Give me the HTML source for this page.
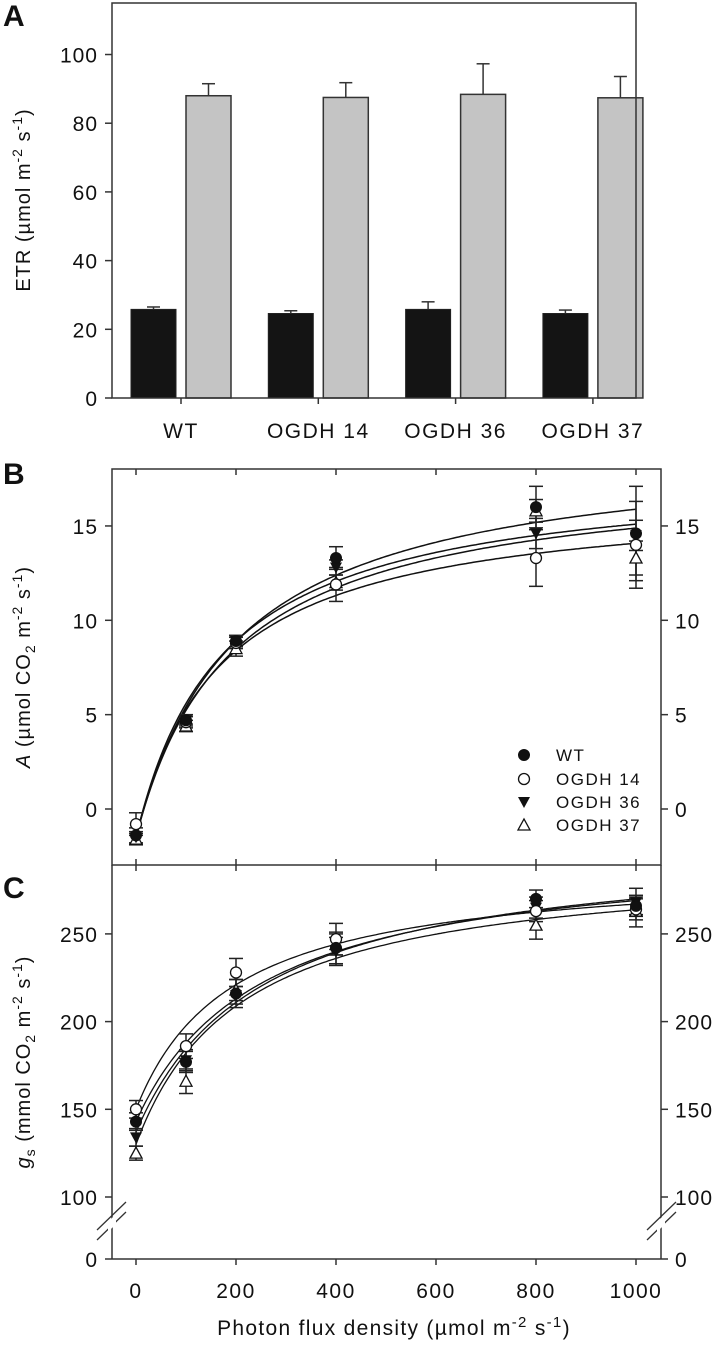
<!DOCTYPE html>
<html><head><meta charset="utf-8"><style>
html,body{margin:0;padding:0;background:#fff;}
svg{display:block;font-family:"Liberation Sans",Arial,sans-serif;}
text{fill:#111;}
</style></head><body>
<svg id="chart" width="717" height="1355" viewBox="0 0 717 1355" xmlns="http://www.w3.org/2000/svg"></svg>
<script>
// ---------- Panel A data ----------
const etrCategories = ["WT", "OGDH 14", "OGDH 36", "OGDH 37"];
const etrLow = [25.8, 24.6, 25.8, 24.6];
const etrLowErr = [0.7, 0.8, 2.2, 1.0];
const etrHigh = [88.0, 87.5, 88.4, 87.4];
const etrHighErr = [3.5, 4.3, 8.9, 6.2];
const etrTicks = [0, 20, 40, 60, 80, 100];

// ---------- Panel B/C data ----------
const seriesNames = ["WT", "OGDH 14", "OGDH 36", "OGDH 37"];
const pfd = [0, 100, 200, 400, 800, 1000];
const aWT = [-1.4, 4.7, 8.9, 13.3, 16.0, 14.6];
const aO14 = [-0.8, 4.6, 8.8, 11.9, 13.3, 14.0];
const aO36 = [-1.5, 4.7, 8.9, 12.8, 14.6, 14.5];
const aO37 = [-1.6, 4.4, 8.5, 12.0, 15.8, 13.3];
const aErrWT = [0.4, 0.3, 0.3, 0.6, 1.1, 2.5];
const aErrO14 = [0.6, 0.3, 0.3, 0.9, 1.5, 2.3];
const aErrO36 = [0.3, 0.2, 0.3, 0.4, 0.8, 0.8];
const aErrO37 = [0.3, 0.3, 0.4, 0.4, 0.6, 0.9];
// fit: y = y0 + amax*x/(k+x)
const aFitY0 = [-1.5, -1.5, -1.5, -1.5];
const aFitAmax = [20.9, 18.2, 19.5, 19.5];
const aFitK = [202, 168, 175, 190];
const aTicks = [0, 5, 10, 15];

const gWT = [143, 177, 216, 242, 270, 266];
const gO14 = [150, 186, 228, 247, 263, 264];
const gO36 = [134, 178, 215, 240, 265, 268];
const gO37 = [125, 166, 218, 244, 255, 263];
const gErrWT = [5, 6, 8, 9, 5, 5];
const gErrO14 = [5, 7, 8, 9, 6, 6];
const gErrO36 = [5, 6, 5, 8, 6, 8];
const gErrO37 = [4, 7, 6, 6, 8, 9];
const gFitY0 = [143, 150, 137, 130];
const gFitA = [157.5, 139.6, 166, 162];
const gFitK = [250, 193, 249, 211];
const gTicks = [0, 100, 150, 200, 250];
const xTicks = [0, 200, 400, 600, 800, 1000];

const NS = "http://www.w3.org/2000/svg";
const svg = document.getElementById("chart");
function el(tag, attrs, parent, txt) {
  const e = document.createElementNS(NS, tag);
  for (const k in attrs) e.setAttribute(k, attrs[k]);
  if (txt !== undefined) e.textContent = txt;
  (parent || svg).appendChild(e);
  return e;
}
const FS = 21;
const TFS = 20;

// ---------- Panel A ----------
const aL = 112, aR = 636, aT = 3, aB = 398;
const yA = v => aB - v * (aB - aT) / 115;
const xCat = i => 181 + i * 137.3;
const gA = el("g", {});


const la = el("text", {x: 3, y: 26, "font-size": 30, "font-weight": "bold"}, gA, "A");


etrCategories.forEach((c, i) => {
  const cx = xCat(i);
  const h0 = yA(etrLow[i]);
  const b1 = el("rect", {x: cx - 50, y: h0, width: 45, height: aB - h0, fill: "#141414", stroke: "#222", "stroke-width": 1}, gA);
  
  
  el("line", {x1: cx - 27.5, x2: cx - 27.5, y1: h0, y2: yA(etrLow[i] + etrLowErr[i]), stroke: "#333", "stroke-width": 1.5}, gA);
  el("line", {x1: cx - 34, x2: cx - 21, y1: yA(etrLow[i] + etrLowErr[i]), y2: yA(etrLow[i] + etrLowErr[i]), stroke: "#333", "stroke-width": 1.5}, gA);
  const h1 = yA(etrHigh[i]);
  const b2 = el("rect", {x: cx + 5, y: h1, width: 45, height: aB - h1, fill: "#c4c4c4", stroke: "#333", "stroke-width": 1.5}, gA);
  
  
  el("line", {x1: cx + 27.5, x2: cx + 27.5, y1: h1, y2: yA(etrHigh[i] + etrHighErr[i]), stroke: "#333", "stroke-width": 1.5}, gA);
  el("line", {x1: cx + 21, x2: cx + 34, y1: yA(etrHigh[i] + etrHighErr[i]), y2: yA(etrHigh[i] + etrHighErr[i]), stroke: "#333", "stroke-width": 1.5}, gA);
  el("line", {x1: cx, x2: cx, y1: aB, y2: aB + 6, stroke: "#333", "stroke-width": 1.5}, gA);
  const t = el("text", {x: cx, y: 438, "font-size": FS, "text-anchor": "middle", "letter-spacing": 1.5}, gA, c);
  
  
});
el("rect", {x: aL, y: aT, width: aR - aL, height: aB - aT, fill: "none", stroke: "#333", "stroke-width": 1.5}, gA);
etrTicks.forEach(v => {
  el("line", {x1: aL - 7, x2: aL, y1: yA(v), y2: yA(v), stroke: "#333", "stroke-width": 1.5}, gA);
  const t = el("text", {x: 98, y: yA(v) + 8, "font-size": FS, "text-anchor": "end", "letter-spacing": 1}, gA, v);
  
  
});
const ta = el("text", {transform: "translate(30,200) rotate(-90)", "font-size": TFS, "text-anchor": "middle", "letter-spacing": 1}, gA);


el("tspan", {}, ta, "ETR (µmol m");
el("tspan", {dy: -8, "font-size": 14}, ta, "-2");
el("tspan", {dy: 8}, ta, " s");
el("tspan", {dy: -8, "font-size": 14}, ta, "-1");
el("tspan", {dy: 8}, ta, ")");

// ---------- shared x ----------
const pL = 112, pR = 661;
const xP = v => 136 + v * 0.5;

function marker(g, kind, x, y) {
  let m;
  if (kind === 0) m = el("circle", {cx: x, cy: y, r: 5.5, fill: "#111", stroke: "#111"}, g);
  else if (kind === 1) m = el("circle", {cx: x, cy: y, r: 5.5, fill: "#fff", stroke: "#111", "stroke-width": 1.3}, g);
  else if (kind === 2) m = el("polygon", {points: `${x-6},${y-5} ${x+6},${y-5} ${x},${y+6}`, fill: "#111"}, g);
  else m = el("polygon", {points: `${x-6},${y+5} ${x+6},${y+5} ${x},${y-6}`, fill: "#fff", stroke: "#111", "stroke-width": 1.3}, g);
  
  
}
function errbar(g, x, y1, y2) {
  el("line", {x1: x, x2: x, y1: y1, y2: y2, stroke: "#222", "stroke-width": 1.5}, g);
  el("line", {x1: x - 7, x2: x + 7, y1: y1, y2: y1, stroke: "#222", "stroke-width": 1.5}, g);
  el("line", {x1: x - 7, x2: x + 7, y1: y2, y2: y2, stroke: "#222", "stroke-width": 1.5}, g);
}

// ---------- Panel B ----------
const bT = 469, bB = 865;
const yB = v => 809 - v * 18.87;
const gB = el("g", {});


const lb = el("text", {x: 3, y: 484, "font-size": 30, "font-weight": "bold"}, gB, "B");


const aSeries = [aWT, aO14, aO36, aO37];
const aErrs = [aErrWT, aErrO14, aErrO36, aErrO37];
for (let s = 0; s < 4; s++) {
  let d = "";
  for (let x = 0; x <= 1000; x += 5) {
    const v = aFitY0[s] + aFitAmax[s] * x / (aFitK[s] + x);
    d += (x ? "L" : "M") + xP(x).toFixed(1) + "," + yB(v).toFixed(1);
  }
  const p = el("path", {d: d, fill: "none", stroke: "#111", "stroke-width": 1.5}, gB);
  
  
}
for (let s = 0; s < 4; s++) {
  pfd.forEach((x, i) => {
    errbar(gB, xP(x), yB(aSeries[s][i] + aErrs[s][i]), yB(aSeries[s][i] - aErrs[s][i]));
  });
}
for (let s = 3; s >= 0; s--) pfd.forEach((x, i) => marker(gB, s, xP(x), yB(aSeries[s][i])));
el("rect", {x: pL, y: bT, width: pR - pL, height: bB - bT, fill: "none", stroke: "#333", "stroke-width": 1.5}, gB);
aTicks.forEach(v => {
  el("line", {x1: pL - 7, x2: pL, y1: yB(v), y2: yB(v), stroke: "#333", "stroke-width": 1.5}, gB);
  el("line", {x1: pR, x2: pR + 7, y1: yB(v), y2: yB(v), stroke: "#333", "stroke-width": 1.5}, gB);
  const t1 = el("text", {x: 98, y: yB(v) + 8, "font-size": FS, "text-anchor": "end", "letter-spacing": 1}, gB, v);
  
  
  const t2 = el("text", {x: 675, y: yB(v) + 8, "font-size": FS, "letter-spacing": 1}, gB, v);
  
  
});
xTicks.forEach(v => {
  el("line", {x1: xP(v), x2: xP(v), y1: bT, y2: bT + 6, stroke: "#333", "stroke-width": 1.5}, gB);
  el("line", {x1: xP(v), x2: xP(v), y1: bB - 6, y2: bB + 6, stroke: "#333", "stroke-width": 1.5}, gB);
});
// legend
const legY = [755, 779, 802, 825];
seriesNames.forEach((n, s) => {
  marker(gB, s, 524, legY[s]);
  const t = el("text", {x: 556, y: legY[s] + 6, "font-size": 17, "letter-spacing": 1.5}, gB, n);
  
  
});
const tb = el("text", {transform: "translate(30,667) rotate(-90)", "font-size": TFS, "text-anchor": "middle", "letter-spacing": 1}, gB);


el("tspan", {"font-style": "italic"}, tb, "A");
el("tspan", {}, tb, " (µmol CO");
el("tspan", {dy: 5, "font-size": 14}, tb, "2");
el("tspan", {dy: -5}, tb, " m");
el("tspan", {dy: -8, "font-size": 14}, tb, "-2");
el("tspan", {dy: 8}, tb, " s");
el("tspan", {dy: -8, "font-size": 14}, tb, "-1");
el("tspan", {dy: 8}, tb, ")");

// ---------- Panel C ----------
const cT = 865, cB = 1259;
const yC = v => v >= 100 ? 1197 - (v - 100) * 1.754 : 1259 - v * 0.62;
const gC = el("g", {});


const lc = el("text", {x: 3, y: 898, "font-size": 30, "font-weight": "bold"}, gC, "C");


const gSeries = [gWT, gO14, gO36, gO37];
const gErrs = [gErrWT, gErrO14, gErrO36, gErrO37];
for (let s = 0; s < 4; s++) {
  let d = "";
  for (let x = 0; x <= 1000; x += 5) {
    const v = gFitY0[s] + gFitA[s] * x / (gFitK[s] + x);
    d += (x ? "L" : "M") + xP(x).toFixed(1) + "," + yC(v).toFixed(1);
  }
  const p = el("path", {d: d, fill: "none", stroke: "#111", "stroke-width": 1.3}, gC);
  
  
}
for (let s = 0; s < 4; s++) pfd.forEach((x, i) => errbar(gC, xP(x), yC(gSeries[s][i] + gErrs[s][i]), yC(gSeries[s][i] - gErrs[s][i])));
for (let s = 3; s >= 0; s--) pfd.forEach((x, i) => marker(gC, s, xP(x), yC(gSeries[s][i])));
el("line", {x1: pL, x2: pL, y1: cT, y2: cB, stroke: "#333", "stroke-width": 1.5}, gC);
el("line", {x1: pR, x2: pR, y1: cT, y2: cB, stroke: "#333", "stroke-width": 1.5}, gC);
el("line", {x1: pL, x2: pR, y1: cB, y2: cB, stroke: "#333", "stroke-width": 1.5}, gC);
gTicks.forEach(v => {
  el("line", {x1: pL - 7, x2: pL, y1: yC(v), y2: yC(v), stroke: "#333", "stroke-width": 1.5}, gC);
  el("line", {x1: pR, x2: pR + 7, y1: yC(v), y2: yC(v), stroke: "#333", "stroke-width": 1.5}, gC);
  const t1 = el("text", {x: 98, y: yC(v) + 8, "font-size": FS, "text-anchor": "end", "letter-spacing": 1}, gC, v);
  
  
  const t2 = el("text", {x: 675, y: yC(v) + 8, "font-size": FS, "letter-spacing": 1}, gC, v);
  
  
});
// axis breaks
[[97, 1230, 126, 1202], [97, 1240, 126, 1212], [647, 1230, 676, 1202], [647, 1240, 676, 1212]].forEach(b => {
  const l = el("line", {x1: b[0], y1: b[1], x2: b[2], y2: b[3], stroke: "#333", "stroke-width": 1.3}, gC);
  
  
});
el("polygon", {points: "108,1222 116,1214 116,1224 108,1232", fill: "#fff"}, gC);
el("polygon", {points: "657,1222 665,1214 665,1224 657,1232", fill: "#fff"}, gC);
xTicks.forEach(v => {
  el("line", {x1: xP(v), x2: xP(v), y1: cB, y2: cB + 6, stroke: "#333", "stroke-width": 1.5}, gC);
  const t = el("text", {x: xP(v), y: 1298, "font-size": FS, "text-anchor": "middle", "letter-spacing": 1.5}, gC, v);
  
  
});
const tc = el("text", {transform: "translate(30,1062) rotate(-90)", "font-size": TFS, "text-anchor": "middle", "letter-spacing": 1}, gC);


el("tspan", {"font-style": "italic"}, tc, "g");
el("tspan", {dy: 5, "font-size": 14}, tc, "s");
el("tspan", {dy: -5}, tc, " (mmol CO");
el("tspan", {dy: 5, "font-size": 14}, tc, "2");
el("tspan", {dy: -5}, tc, " m");
el("tspan", {dy: -8, "font-size": 14}, tc, "-2");
el("tspan", {dy: 8}, tc, " s");
el("tspan", {dy: -8, "font-size": 14}, tc, "-1");
el("tspan", {dy: 8}, tc, ")");
const tx = el("text", {x: 394, y: 1335, "font-size": 21, "text-anchor": "middle", "letter-spacing": 1.3}, svg);


el("tspan", {}, tx, "Photon flux density (µmol m");
el("tspan", {dy: -8, "font-size": 15}, tx, "-2");
el("tspan", {dy: 8}, tx, " s");
el("tspan", {dy: -8, "font-size": 15}, tx, "-1");
el("tspan", {dy: 8}, tx, ")");
</script>
</body></html>
